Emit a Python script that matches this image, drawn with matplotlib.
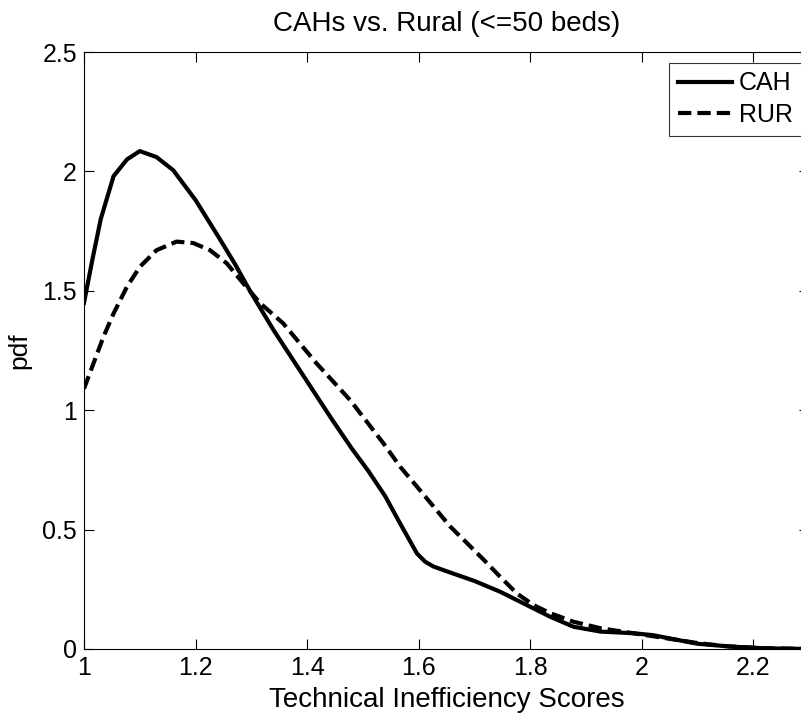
import matplotlib
matplotlib.use("Agg")
import matplotlib.pyplot as plt

plt.rcParams['font.family'] = ['Liberation Sans', 'DejaVu Sans']

# kernel density estimates
cah_x = [1.0, 1.015, 1.03, 1.053, 1.077, 1.10, 1.13, 1.16, 1.20, 1.24, 1.27, 1.30,
         1.34, 1.375, 1.41, 1.445, 1.48, 1.51, 1.54, 1.567, 1.597, 1.612, 1.627,
         1.657, 1.70, 1.746, 1.80, 1.836, 1.878, 1.926, 1.985, 2.02, 2.06, 2.10,
         2.16, 2.22, 2.30]
cah_y = [1.45, 1.63, 1.80, 1.98, 2.05, 2.085, 2.06, 2.005, 1.88, 1.73, 1.615, 1.49,
         1.335, 1.21, 1.085, 0.96, 0.84, 0.745, 0.64, 0.525, 0.40, 0.365, 0.345,
         0.32, 0.285, 0.24, 0.177, 0.135, 0.093, 0.073, 0.066, 0.058, 0.04, 0.022,
         0.01, 0.003, 0.0]

rur_x = [1.0, 1.017, 1.035, 1.053, 1.077, 1.10, 1.13, 1.166, 1.196, 1.226, 1.256,
         1.286, 1.316, 1.357, 1.417, 1.477, 1.537, 1.567, 1.597, 1.627, 1.657,
         1.687, 1.717, 1.746, 1.776, 1.806, 1.836, 1.878, 1.926, 1.985, 2.03,
         2.10, 2.15, 2.22, 2.30]
rur_y = [1.09, 1.196, 1.308, 1.405, 1.517, 1.60, 1.67, 1.706, 1.70, 1.67, 1.615,
         1.53, 1.448, 1.364, 1.196, 1.043, 0.861, 0.763, 0.68, 0.596, 0.512,
         0.443, 0.373, 0.303, 0.233, 0.184, 0.15, 0.114, 0.087, 0.066, 0.05,
         0.025, 0.012, 0.003, 0.0]

xticks = [1, 1.2, 1.4, 1.6, 1.8, 2, 2.2]
xtick_labels = ['1', '1.2', '1.4', '1.6', '1.8', '2', '2.2']
yticks = [0, 0.5, 1, 1.5, 2, 2.5]
ytick_labels = ['0', '0.5', '1', '1.5', '2', '2.5']

fig = plt.figure(figsize=(8.01, 7.17), dpi=100)
# axes run a little past the right edge, like the cropped original
ax = fig.add_axes([84 / 801, 68 / 717, 725 / 801, 597 / 717])

ax.plot(cah_x, cah_y, color='black', lw=3, label='CAH')
ax.plot(rur_x, rur_y, color='black', lw=3, ls=(0, (3.2, 1.45)), label='RUR')

ax.set_xlim(1, 2.3)
ax.set_ylim(0, 2.5)
ax.set_xticks(xticks)
ax.set_xticklabels(xtick_labels)
ax.set_yticks(yticks)
ax.set_yticklabels(ytick_labels)
ax.tick_params(direction='in', length=7, width=0.8, labelsize=18,
               top=True, right=True, colors='black')
ax.tick_params(axis='x', pad=5)
ax.tick_params(axis='y', pad=5)
for s in ax.spines.values():
    s.set_linewidth(0.8)

ax.set_title('CAHs vs. Rural (<=50 beds)', fontsize=20, pad=15)
ax.set_xlabel('Technical Inefficiency Scores', fontsize=20, labelpad=5)
ax.set_ylabel('pdf', fontsize=19, labelpad=8)

leg = ax.legend(loc='upper left', bbox_to_anchor=(0.807, 0.982), fontsize=18,
                handlelength=2.16, handletextpad=0.28, borderpad=0.35,
                labelspacing=0.3, frameon=True, fancybox=False,
                borderaxespad=0)
leg.get_frame().set_edgecolor('black')
leg.get_frame().set_linewidth(0.8)

fig.savefig('out.png', dpi=100)
